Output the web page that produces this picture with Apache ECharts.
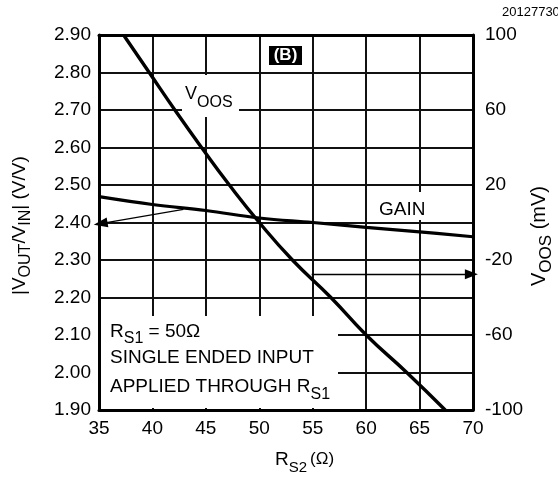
<!DOCTYPE html>
<html>
<head>
<meta charset="utf-8">
<script src="https://cdn.jsdelivr.net/npm/echarts@6/dist/echarts.min.js"></script>
<style>
  html, body { margin: 0; padding: 0; background: #fff; }
  #chart { width: 558px; height: 478px; }
</style>
</head>
<body>
<div id="chart"></div>
<script>
// R_S2 sweep (ohms) and the two measured curves
const rs2Ticks = [35, 40, 45, 50, 55, 60, 65, 70];
const gainRs2 = [35, 40, 45, 50, 55, 60, 65, 70];
const gainValues = [2.469, 2.448, 2.432, 2.412, 2.400, 2.387, 2.375, 2.362];
const voosRs2 = [37.3, 39.7, 42.1, 44.6, 47.2, 50.0, 53.1, 56.7, 60.0, 63.8, 67.4];
const voosValues = [100, 80, 60, 40, 20, 0, -20, -40, -60, -80, -100];
const gainTickLabels = ['1.90', '2.00', '2.10', '2.20', '2.30', '2.40', '2.50', '2.60', '2.70', '2.80', '2.90'];
const voosTickLabels = [100, 60, 20, -20, -60, -100];

const FONT = '"Liberation Sans", Arial, Helvetica, sans-serif';
const chart = echarts.init(document.getElementById('chart'), null, { renderer: 'canvas' });

const measureCtx = document.createElement('canvas').getContext('2d');
function textWidth(t, size, weight) {
  measureCtx.font = (weight || 'normal') + ' ' + size + 'px ' + FONT;
  return measureCtx.measureText(t).width;
}

// Lay out a run of text pieces (normal text and subscripts) on a shared baseline.
function textRun(parts, x0, baseline) {
  let x = x0;
  return parts.map(p => {
    const size = p.size || 19;
    const el = {
      type: 'text',
      z: 5,
      style: {
        text: p.t,
        x: x,
        y: baseline + (p.dy || 0) + Math.round(size * 0.21),
        font: (p.weight || 'normal') + ' ' + size + 'px ' + FONT,
        fill: p.fill || '#000',
        textAlign: 'left',
        verticalAlign: 'bottom'
      }
    };
    x += textWidth(p.t, size, p.weight) + (p.gap || 0);
    return el;
  });
}

const SUB = 16;
const frameLine = { show: true, onZero: false, lineStyle: { color: '#000', width: 3 } };
const gridLine = { show: true, lineStyle: { color: '#111', width: 2 } };

chart.setOption({
  animation: false,
  backgroundColor: '#fff',
  grid: { left: 99, top: 35, right: 85, bottom: 68, show: false },
  xAxis: [
    {
      type: 'value', min: 35, max: 70, interval: 5, position: 'bottom',
      axisLine: frameLine,
      axisTick: { show: false },
      axisLabel: {
        margin: 9, color: '#000', fontSize: 19, fontFamily: FONT,
        formatter: v => (rs2Ticks.includes(v) ? String(v) : '')
      },
      splitLine: gridLine
    },
    {
      type: 'value', min: 35, max: 70, interval: 5, position: 'top',
      axisLine: frameLine,
      axisTick: { show: false },
      axisLabel: { show: false },
      splitLine: { show: false }
    }
  ],
  yAxis: [
    {
      type: 'value', min: 1.9, max: 2.9, interval: 0.1, position: 'left',
      axisLine: frameLine,
      axisTick: { show: false },
      axisLabel: {
        margin: 8, color: '#000', fontSize: 19, fontFamily: FONT,
        formatter: v => {
          const s = v.toFixed(2);
          return gainTickLabels.includes(s) ? s : '';
        }
      },
      splitLine: gridLine
    },
    {
      type: 'value', min: -100, max: 100, interval: 20, position: 'right',
      axisLine: frameLine,
      axisTick: { show: false },
      axisLabel: {
        margin: 12, color: '#000', fontSize: 19, fontFamily: FONT,
        formatter: v => (voosTickLabels.includes(Math.round(v)) ? String(Math.round(v)) : '')
      },
      splitLine: { show: false }
    }
  ],
  series: [
    {
      name: 'GAIN', type: 'line', xAxisIndex: 0, yAxisIndex: 0, z: 3,
      data: gainRs2.map((r, i) => [r, gainValues[i]]),
      smooth: 0.4, showSymbol: false, silent: true,
      lineStyle: { color: '#000', width: 3.2 },
      markLine: {
        silent: true, animation: false,
        symbol: ['none', 'triangle'], symbolSize: [10, 14],
        label: { show: false },
        lineStyle: { color: '#000', width: 1.3, type: 'solid' },
        data: [[{ coord: [42.9, 2.435] }, { coord: [35.15, 2.397] }]]
      }
    },
    {
      name: 'VOOS', type: 'line', xAxisIndex: 0, yAxisIndex: 1, z: 3,
      data: voosRs2.map((r, i) => [r, voosValues[i]]),
      smooth: 0.5, showSymbol: false, silent: true,
      lineStyle: { color: '#000', width: 3.4 },
      markLine: {
        silent: true, animation: false,
        symbol: ['none', 'triangle'], symbolSize: [10, 13],
        label: { show: false },
        lineStyle: { color: '#000', width: 1.3, type: 'solid' },
        data: [[{ coord: [54.9, -27.6] }, { coord: [69.85, -27.6] }]]
      }
    }
  ],
  graphic: [
    // cleared areas behind the in-plot annotations
    { type: 'rect', z: 1, shape: { x: 182, y: 75, width: 57, height: 42 }, style: { fill: '#fff' } },
    { type: 'rect', z: 1, shape: { x: 372, y: 192, width: 60, height: 28 }, style: { fill: '#fff' } },
    { type: 'rect', z: 1, shape: { x: 101, y: 316, width: 237, height: 92 }, style: { fill: '#fff' } },
    // panel tag
    { type: 'rect', z: 4, shape: { x: 269, y: 46, width: 33, height: 19 }, style: { fill: '#000' } },
    {
      type: 'text', z: 5,
      style: { text: '(B)', x: 285.5, y: 55.5, font: 'bold 17px ' + FONT, fill: '#fff', textAlign: 'center', verticalAlign: 'middle' }
    },
    // figure number
    {
      type: 'text', z: 5,
      style: { text: '20127730', x: 502, y: 12.5, font: '13px ' + FONT, fill: '#000', textAlign: 'left', verticalAlign: 'middle' }
    },
    // curve labels
    ...textRun([{ t: 'V', size: 18 }, { t: 'OOS', size: 16, dy: 8 }], 185, 99.5),
    ...textRun([{ t: 'GAIN' }], 379, 215),
    // test conditions
    ...textRun([{ t: 'R' }, { t: 'S1', size: SUB, dy: 7 }, { t: ' = 50\u03A9' }], 110, 337),
    ...textRun([{ t: 'SINGLE ENDED INPUT' }], 110, 363),
    ...textRun([{ t: 'APPLIED THROUGH R' }, { t: 'S1', size: SUB, dy: 8 }], 110, 392),
    // x-axis name
    ...textRun([{ t: 'R' }, { t: 'S2', size: 15, dy: 7, gap: 3 }, { t: '(\u03A9)', size: 17, dy: -1 }], 275, 465),
    // left axis name, reading upwards
    {
      type: 'group', x: 25, y: 295, rotation: Math.PI / 2,
      children: textRun([
        { t: '|V' }, { t: 'OUT', size: SUB, dy: 6 }, { t: '/V' }, { t: 'IN', size: SUB, dy: 6 }, { t: '| (V/V)' }
      ], 0, 0)
    },
    // right axis name, reading upwards
    {
      type: 'group', x: 545, y: 286, rotation: Math.PI / 2,
      children: textRun([{ t: 'V', size: 20 }, { t: 'OOS', size: 17, dy: 6 }, { t: ' (mV)', size: 20 }], 0, 0)
    }
  ]
});
</script>
</body>
</html>
